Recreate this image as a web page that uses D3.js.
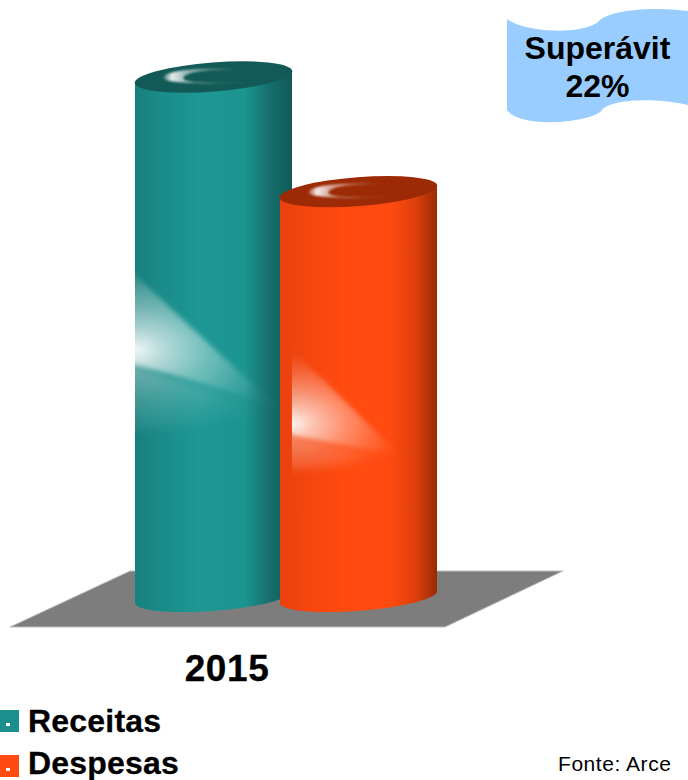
<!DOCTYPE html>
<html><head><meta charset="utf-8">
<script src="https://cdnjs.cloudflare.com/ajax/libs/d3/7.8.5/d3.min.js"></script>
<style>html,body{margin:0;padding:0;background:#fff;overflow:hidden}svg{display:block}text{font-family:"Liberation Sans",Arial,sans-serif}</style>
</head><body><svg id="c" width="688" height="780"></svg>
<script>
const categories = ["2015"];
const seriesNames = ["Receitas", "Despesas"];
const seriesValues = [100, 78];
const badgeLines = ["Superávit", "22%"];
const sourceNote = "Fonte: Arce";

const colors = [
  {side:["#17807e","#1a8c89","#1d9894","#1c9490","#166e6c","#115a57"], top:"#125a57", key:"#1a8f8c"},
  {side:["#e8410d","#f5450e","#ff4a10","#ff4a10","#e0400c","#9a2a05"], top:"#9c2b05", key:"#ff4a10"}
];
const sideStops = [0,.18,.42,.7,.86,1];

const svg = d3.select("#c");
const defs = svg.append("defs");
const W = 157, RX = 79, RY = 14, TILT = 4.36, SLOPE = Math.sin(TILT*Math.PI/180)*RX;
const x = d3.scaleLinear().domain([0,1]).range([135,280]);
const y = d3.scaleLinear().domain([0,100]).range([598,77]);

svg.append("path").attr("d","M10,627L445,627L563,571L130,571Z").attr("fill","#7d7d7d")
   .attr("stroke","#bdbdbd").attr("stroke-width",1);

function mkBlur(id,sd){
  const f = defs.append("filter").attr("id",id).attr("x","-40%").attr("y","-40%").attr("width","180%").attr("height","180%");
  f.append("feGaussianBlur").attr("stdDeviation",sd);
}
mkBlur("bl",5); mkBlur("bs",1); mkBlur("bm",2.5);

const glareX0 = [0, 0.076], glareX1 = [0.91, 0.764];
const fTop=.645, fPeak=[.476,.43], fApex=[.365,.351], fBot=[.322,.316];

seriesNames.forEach((name,i)=>{
  const L = x(i), R = L+W, cx = L+W/2, yt = y(seriesValues[i]), yb = y(0), c = colors[i], h = yb-yt;
  const yAt = f => yb - f*h;
  const lg = defs.append("linearGradient").attr("id","side"+i);
  sideStops.forEach((s,k)=>lg.append("stop").attr("offset",s).attr("stop-color",c.side[k]));
  const body = `M${L},${yt+SLOPE}L${L},${yb+SLOPE}A${RX} ${RY} ${-TILT} 0 0 ${R},${yb-SLOPE}L${R},${yt-SLOPE}Z`;
  const g = svg.append("g").attr("class","cyl").attr("data-name",name);
  g.append("path").attr("d",body).attr("fill",`url(#side${i})`);
  defs.append("clipPath").attr("id","clip"+i).append("path").attr("d",body);

  if(i===1){
    const sg = defs.append("linearGradient").attr("id","smear").attr("x1",0).attr("x2",0).attr("y1",0).attr("y2",1);
    [[0,0],[.3,.45],[.6,.85],[.8,.7],[1,0]].forEach(s=>sg.append("stop").attr("offset",s[0]).attr("stop-color","#4a6a64").attr("stop-opacity",s[1]));
    g.append("rect").attr("x",L).attr("width",W*glareX0[1]).attr("y",yAt(fTop)).attr("height",yAt(fBot)-yAt(fTop)).attr("fill","url(#smear)");
  }

  const gx0 = L+W*glareX0[i], gx1 = L+W*glareX1[i], gw = gx1-gx0;
  const cyP = yAt(fPeak[i]);
  const rg = defs.append("radialGradient").attr("id","gl"+i).attr("gradientUnits","userSpaceOnUse")
     .attr("cx",gx0).attr("cy",cyP).attr("r",gw)
     .attr("gradientTransform",`translate(${gx0} ${cyP}) scale(1 .62) translate(${-gx0} ${-cyP})`);
  [[0,.95],[.2,.68],[.5,.38],[.8,.15],[1,0.03]].forEach(s=>rg.append("stop").attr("offset",s[0]).attr("stop-color","#fff").attr("stop-opacity",s[1]));
  defs.append("clipPath").attr("id","gc"+i).append("rect").attr("x",gx0).attr("y",yt).attr("width",gw+10).attr("height",h);
  const G = g.append("g").attr("clip-path",`url(#gc${i})`);
  const Ga = G.append("g").attr("clip-path",`url(#clip${i})`);
  Ga.append("path").attr("filter","url(#bl)").attr("fill",`url(#gl${i})`).attr("opacity",.55)
    .attr("d",`M${gx0-14},${yAt(fPeak[i]-.02)}L${gx1},${yAt(fApex[i])}Q${gx0+gw*.45},${yAt(fBot[i])} ${gx0-14},${yAt(fBot[i])}Z`);
  Ga.append("path").attr("filter","url(#bm)").attr("fill",`url(#gl${i})`)
    .attr("d",`M${gx0-14},${yAt(fTop)}L${gx1},${yAt(fApex[i])}Q${gx0+gw*.25},${yAt(fPeak[i]-.04)} ${gx0-14},${yAt(fPeak[i]-.025)}Z`);

  const ty = yt;
  g.append("ellipse").attr("cx",cx).attr("cy",ty).attr("rx",RX).attr("ry",RY+.5)
    .attr("transform",`rotate(${-TILT} ${cx} ${ty})`).attr("fill",c.top);
  const cg = defs.append("linearGradient").attr("id","cr"+i);
  [[0,.2],[.1,.9],[.25,.6],[.6,.35],[1,0]].forEach(s=>cg.append("stop").attr("offset",s[0]).attr("stop-color","#fff").attr("stop-opacity",s[1]));
  g.append("path").attr("fill",`url(#cr${i})`).attr("filter","url(#bs)")
    .attr("d",`M${cx+30},${ty-7}C${cx-8},${ty-10} ${cx-50},${ty-7} ${cx-50},${ty+1}C${cx-50},${ty+6} ${cx-8},${ty+8} ${cx+34},${ty+5}C${cx-6},${ty+6.5} ${cx-30},${ty+6} ${cx-30},${ty+1}C${cx-30},${ty-5} ${cx-6},${ty-8.5} ${cx+30},${ty-7}Z`);
});

svg.append("text").attr("x",227).attr("y",680.5).attr("text-anchor","middle")
  .attr("font-size",37).attr("font-weight","bold").attr("letter-spacing",.6)
  .attr("stroke","#000").attr("stroke-width",.3).text(categories[0]);

const ly = d3.scalePoint().domain(seriesNames).range([732,777]);
seriesNames.forEach((name,i)=>{
  const by = ly(name);
  svg.append("rect").attr("x",0).attr("y",by-22).attr("width",19).attr("height",22).attr("fill",colors[i].key);
  svg.append("rect").attr("x",6).attr("y",by-9).attr("width",4).attr("height",3).attr("fill","#fff");
  svg.append("text").attr("x",28).attr("y",by-(i?3.5:0)).attr("font-size",32).attr("font-weight","bold")
    .attr("stroke","#000").attr("stroke-width",.3).attr("letter-spacing",.2).text(name);
});

svg.append("path").attr("fill","#99ccff")
  .attr("d","M507,19C522,31 575,36 597,23C606,10 650,6 688,11L688,105C660,98 612,98 602,110C595,122 520,130 507,110Z");
badgeLines.forEach((t,i)=>svg.append("text").attr("x",597.5).attr("y",58.5+i*38).attr("text-anchor","middle")
  .attr("font-size",32).attr("font-weight","bold").text(t));

svg.append("text").attr("x",558).attr("y",771).attr("font-size",21).attr("letter-spacing",.55).text(sourceNote);
</script></body></html>
